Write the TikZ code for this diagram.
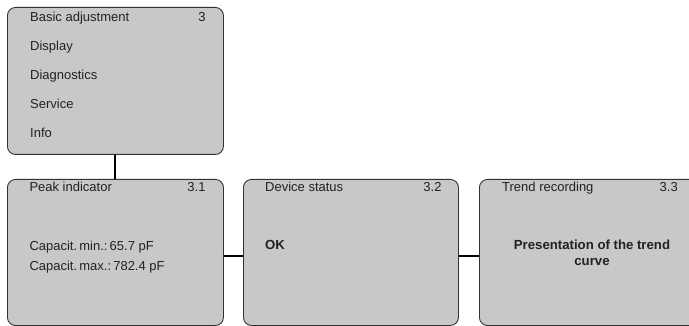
\documentclass[tikz,border=0pt]{standalone}
\usepackage{fontspec}
\setmainfont{Liberation Sans}
\definecolor{boxfill}{HTML}{C8C8C8}
\definecolor{boxline}{HTML}{333333}
\definecolor{txt}{HTML}{222222}
\begin{document}
\begin{tikzpicture}[x=1pt,y=-1pt,
  menubox/.style={draw=boxline,fill=boxfill,line width=0.9pt,rounded corners=8pt,minimum width=216pt,minimum height=147pt,inner sep=0pt,anchor=north west},
  lbl/.style={anchor=base west,inner sep=0pt,text=txt,font=\fontsize{13}{15}\selectfont},
  num/.style={anchor=base east,inner sep=0pt,text=txt,font=\fontsize{13}{15}\selectfont},
  bold/.style={inner sep=0pt,text=txt,font=\fontsize{13.2}{15}\selectfont\bfseries},
  conn/.style={line width=2pt,black}]
\useasboundingbox (0,0) rectangle (689,326);
\clip (0,0) rectangle (689,326);
\node[menubox] (top) at (7,7) {};
\node[menubox,minimum height=146pt] (peak) at (7,179) {};
\node[menubox,minimum width=215pt,minimum height=146pt] (dev) at (243,179) {};
\node[menubox,minimum width=225pt,minimum height=146pt] (trend) at (479,179) {};
\draw[conn] (top.south) -- (peak.north);
\draw[conn] ([yshift=-4pt]peak.east) -- ([yshift=-4pt]dev.west);
\draw[conn] ([yshift=-4pt]dev.east) -- ([yshift=-4pt]trend.west);
% top menu
\node[lbl] (t1) at (30,21.7) {Basic adjustment};
\node[num] (t1n) at (205.7,21.7) {3};
\node[lbl] (t2) at (30,51) {Display};
\node[lbl] (t3) at (30,80) {Diagnostics};
\node[lbl] (t4) at (30,109) {Service};
\node[lbl] (t5) at (30,138) {Info};
% peak
\node[lbl] (p1) at (29.3,191.7) {Peak indicator};
\node[num] (p1n) at (205.7,191.7) {3.1};
\node[lbl] (p2) at (29.3,251) {Capacit.\,min.:\,65.7 pF};
\node[lbl] (p3) at (29.3,270) {Capacit.\,max.:\,782.4 pF};
% device
\node[lbl] (d1) at (265,191.7) {Device status};
\node[num] (d1n) at (441.7,191.7) {3.2};
\node[bold,anchor=base west] (d2) at (265,250) {OK};
% trend
\node[lbl] (r1) at (502,191.7) {Trend recording};
\node[num] (r1n) at (678,191.7) {3.3};
\node[bold,anchor=base] (r2) at (592,250) {Presentation of the trend};
\node[bold,anchor=base] (r3) at (592,265.7) {curve};
\end{tikzpicture}
\end{document}
